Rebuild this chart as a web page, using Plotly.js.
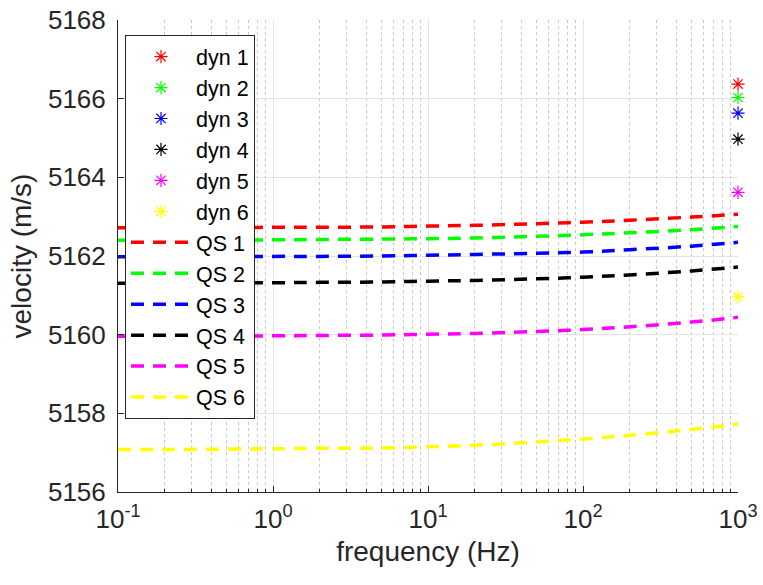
<!DOCTYPE html>
<html>
<head>
<meta charset="utf-8">
<script src="https://cdn.plot.ly/plotly-3.0.1.min.js"></script>
<style>html,body{margin:0;padding:0;background:#fff;}#chart{width:763px;height:585px;}</style>
</head>
<body>
<div id="chart"></div>
<script>
var freq = [0.1, 0.2, 0.5, 1, 2, 5, 10, 20, 50, 100, 200, 500, 1000];
var qs1 = [5162.72, 5162.72, 5162.72, 5162.73, 5162.73, 5162.74, 5162.76, 5162.78, 5162.82, 5162.86, 5162.91, 5162.99, 5163.06];
var qs2 = [5162.40, 5162.40, 5162.41, 5162.41, 5162.42, 5162.43, 5162.44, 5162.46, 5162.50, 5162.54, 5162.59, 5162.67, 5162.75];
var qs3 = [5161.98, 5161.98, 5161.98, 5161.99, 5161.99, 5162.00, 5162.02, 5162.04, 5162.07, 5162.10, 5162.16, 5162.25, 5162.35];
var qs4 = [5161.31, 5161.31, 5161.32, 5161.32, 5161.33, 5161.34, 5161.36, 5161.38, 5161.42, 5161.46, 5161.52, 5161.62, 5161.72];
var qs5 = [5159.96, 5159.96, 5159.96, 5159.97, 5159.98, 5159.99, 5160.01, 5160.03, 5160.08, 5160.13, 5160.20, 5160.32, 5160.44];
var qs6 = [5157.08, 5157.08, 5157.09, 5157.10, 5157.11, 5157.12, 5157.15, 5157.19, 5157.27, 5157.35, 5157.44, 5157.59, 5157.73];
var dynFreq = 1000;
var dynValues = [5166.37, 5166.03, 5165.63, 5164.97, 5163.62, 5160.96];
var dynNames = ['dyn 1', 'dyn 2', 'dyn 3', 'dyn 4', 'dyn 5', 'dyn 6'];
var qsNames = ['QS 1', 'QS 2', 'QS 3', 'QS 4', 'QS 5', 'QS 6'];
var colors = ['#ff0000', '#00ff00', '#0000ff', '#000000', '#ff00ff', '#ffff00'];
var qsSeries = [qs1, qs2, qs3, qs4, qs5, qs6];
var xTickVals = [0.1, 1, 10, 100, 1000];
var xTickText = ['10<sup>-1</sup>', '10<sup>0</sup>', '10<sup>1</sup>', '10<sup>2</sup>', '10<sup>3</sup>'];
var yTickVals = [5156, 5158, 5160, 5162, 5164, 5166, 5168];

// minor log ticks 2..9 within each decade
var xMinorVals = [];
for (var d = 0; d < xTickVals.length - 1; d++) {
  for (var m = 2; m <= 9; m++) xMinorVals.push(xTickVals[d] * m);
}

var traces = [];
for (var i = 0; i < 6; i++) {
  traces.push({
    x: [dynFreq], y: [dynValues[i]], name: dynNames[i], type: 'scatter', mode: 'markers',
    cliponaxis: false,
    marker: {symbol: 'asterisk-open', size: 11, color: colors[i], line: {color: colors[i], width: 1.2}}
  });
}
for (var j = 0; j < 6; j++) {
  traces.push({
    x: freq, y: qsSeries[j], name: qsNames[j], type: 'scatter', mode: 'lines',
    line: {color: colors[j], width: 3.5, dash: '13px,9px', shape: 'spline'}
  });
}

var layout = {
  width: 763, height: 585,
  margin: {l: 118, r: 25, t: 20, b: 93},
  paper_bgcolor: '#ffffff', plot_bgcolor: '#ffffff',
  font: {family: 'Liberation Sans, Arial, sans-serif', color: '#262626'},
  showlegend: true,
  legend: {
    x: 0.0113, y: 0.968, xanchor: 'left', yanchor: 'top',
    bgcolor: '#ffffff', bordercolor: '#262626', borderwidth: 1,
    font: {size: 21.5, color: '#000000'}, itemwidth: 60, tracegroupgap: 0
  },
  xaxis: {
    type: 'log', range: [-1, 3], tickmode: 'array', tickvals: xTickVals, ticktext: xTickText,
    showline: true, linecolor: '#262626', linewidth: 1,
    ticks: 'inside', ticklen: 6, tickcolor: '#262626',
    showgrid: true, gridcolor: '#e3e3e3', gridwidth: 1,
    zeroline: false,
    minor: {tickmode: 'array', tickvals: xMinorVals, ticks: 'inside', ticklen: 3, tickcolor: '#262626',
            showgrid: true, gridcolor: '#c8c8c8', griddash: 'dot', gridwidth: 1},
    tickfont: {size: 26, color: '#262626'},
    ticklabelstandoff: 4,
    title: {text: 'frequency (Hz)', font: {size: 28, color: '#262626'}, standoff: 8}
  },
  yaxis: {
    range: [5156, 5168], tickmode: 'array', tickvals: yTickVals,
    showline: true, linecolor: '#262626', linewidth: 1,
    ticks: 'inside', ticklen: 6, tickcolor: '#262626',
    showgrid: true, gridcolor: '#e3e3e3', gridwidth: 1,
    zeroline: false,
    tickfont: {size: 26, color: '#262626'},
    ticklabelstandoff: 6,
    title: {text: 'velocity (m/s)', font: {size: 28, color: '#262626'}, standoff: 8}
  }
};

Plotly.newPlot('chart', traces, layout, {displayModeBar: false, staticPlot: true});
</script>
</body>
</html>
